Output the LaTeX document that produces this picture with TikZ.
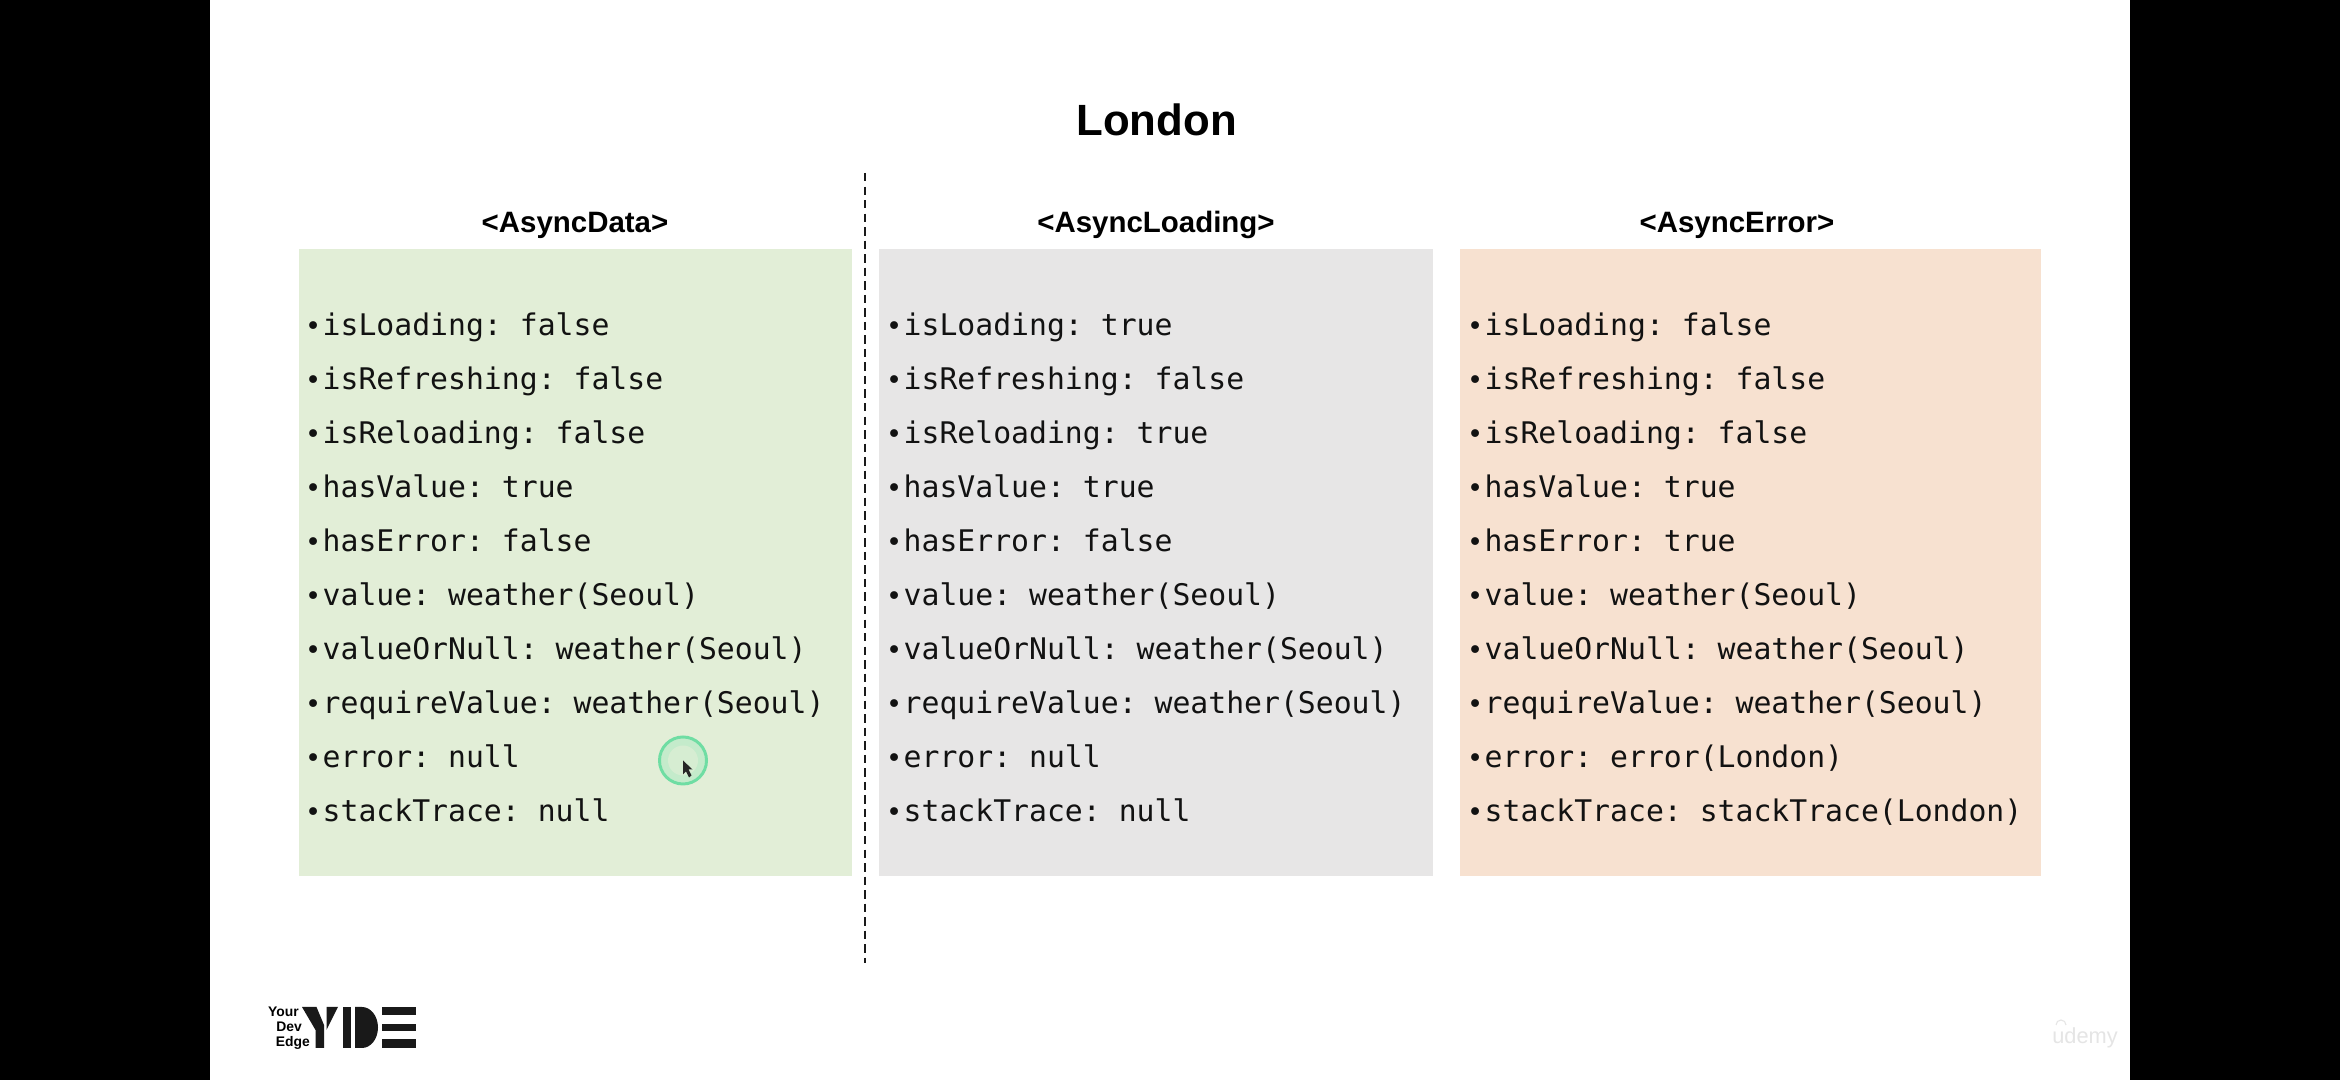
\documentclass[tikz,border=0pt]{standalone}
\usepackage{fontspec}
\setmainfont{Liberation Sans}
\setmonofont{DejaVu Sans Mono}
\definecolor{datagreen}{HTML}{E2EED7}
\definecolor{loadgrey}{HTML}{E7E6E6}
\definecolor{errorpeach}{HTML}{F7E1D0}
\definecolor{ringgreen}{HTML}{6FDDA3}
\definecolor{ringfill}{HTML}{C4EBCB}
\newcommand{\bul}{\llap{\scalebox{0.9}{\textbullet}\kern0.4pt}}
\tikzset{
    colbox/.style={inner sep=0pt, minimum height=6.27cm},
    heading/.style={anchor=base, inner sep=0pt, font=\bfseries\fontsize{8.38pt}{10pt}\selectfont},
    fieldrow/.style={anchor=base west, inner sep=0pt, text=black!93, font=\ttfamily\fontsize{8.47pt}{10pt}\selectfont},
    logotext/.style={anchor=base east, inner sep=0pt, font=\bfseries\fontsize{3.95pt}{4pt}\selectfont}
}

\begin{document}
\begin{tikzpicture}
        \useasboundingbox (0, 0) rectangle (23.4, 10.8);
        \fill[black] (0, 0) rectangle (23.4, 10.8);
        \fill[white] (2.1, 0) rectangle (21.3, 10.8);

        \node[anchor=base, inner sep=0pt, font=\bfseries\fontsize{12.45pt}{14pt}\selectfont] (title) at (11.565, 9.44) {London};

        \node[colbox, fill=datagreen, minimum width=5.53cm] (databox) at (5.755, 5.172) {};
        \node[colbox, fill=loadgrey, minimum width=5.54cm] (loadbox) at (11.56, 5.172) {};
        \node[colbox, fill=errorpeach, minimum width=5.81cm] (errorbox) at (17.505, 5.172) {};

        \node[heading] (datahead) at (5.75, 8.47) {<AsyncData>};
        \node[heading] (loadhead) at (11.56, 8.47) {<AsyncLoading>};
        \node[heading] (errorhead) at (17.37, 8.47) {<AsyncError>};

        \coordinate (dashtop) at (8.65, 9.07);
        \coordinate (dashbottom) at (8.65, 1.17);
        \draw[line width=0.55pt, black!90, dash pattern=on 2.4pt off 1.45pt] (dashtop) -- (dashbottom);

        % first column
        \node[fieldrow] (d1) at (3.22, 7.445) {\bul isLoading: false};
        \node[fieldrow] (d2) at (3.22, 6.905) {\bul isRefreshing: false};
        \node[fieldrow] (d3) at (3.22, 6.365) {\bul isReloading: false};
        \node[fieldrow] (d4) at (3.22, 5.825) {\bul hasValue: true};
        \node[fieldrow] (d5) at (3.22, 5.285) {\bul hasError: false};
        \node[fieldrow] (d6) at (3.22, 4.745) {\bul value: weather(Seoul)};
        \node[fieldrow] (d7) at (3.22, 4.205) {\bul valueOrNull: weather(Seoul)};
        \node[fieldrow] (d8) at (3.22, 3.665) {\bul requireValue: weather(Seoul)};
        \node[fieldrow] (d9) at (3.22, 3.125) {\bul error: null};
        \node[fieldrow] (d10) at (3.22, 2.585) {\bul stackTrace: null};

        % second column
        \node[fieldrow] (l1) at (9.03, 7.445) {\bul isLoading: true};
        \node[fieldrow] (l2) at (9.03, 6.905) {\bul isRefreshing: false};
        \node[fieldrow] (l3) at (9.03, 6.365) {\bul isReloading: true};
        \node[fieldrow] (l4) at (9.03, 5.825) {\bul hasValue: true};
        \node[fieldrow] (l5) at (9.03, 5.285) {\bul hasError: false};
        \node[fieldrow] (l6) at (9.03, 4.745) {\bul value: weather(Seoul)};
        \node[fieldrow] (l7) at (9.03, 4.205) {\bul valueOrNull: weather(Seoul)};
        \node[fieldrow] (l8) at (9.03, 3.665) {\bul requireValue: weather(Seoul)};
        \node[fieldrow] (l9) at (9.03, 3.125) {\bul error: null};
        \node[fieldrow] (l10) at (9.03, 2.585) {\bul stackTrace: null};

        % third column
        \node[fieldrow] (e1) at (14.84, 7.445) {\bul isLoading: false};
        \node[fieldrow] (e2) at (14.84, 6.905) {\bul isRefreshing: false};
        \node[fieldrow] (e3) at (14.84, 6.365) {\bul isReloading: false};
        \node[fieldrow] (e4) at (14.84, 5.825) {\bul hasValue: true};
        \node[fieldrow] (e5) at (14.84, 5.285) {\bul hasError: true};
        \node[fieldrow] (e6) at (14.84, 4.745) {\bul value: weather(Seoul)};
        \node[fieldrow] (e7) at (14.84, 4.205) {\bul valueOrNull: weather(Seoul)};
        \node[fieldrow] (e8) at (14.84, 3.665) {\bul requireValue: weather(Seoul)};
        \node[fieldrow] (e9) at (14.84, 3.125) {\bul error: error(London)};
        \node[fieldrow] (e10) at (14.84, 2.585) {\bul stackTrace: stackTrace(London)};

        % mouse pointer
        \fill[ringfill] (6.83, 3.195) circle (0.22);
        \fill[datagreen!60!ringfill] (6.83, 3.195) circle (0.15);
        \draw[ringgreen, line width=0.85pt] (6.83, 3.195) circle (0.235);
        \fill[black!85] (6.83, 3.195) -- (6.83, 3.055) -- (6.86, 3.085) -- (6.89, 3.025) -- (6.915, 3.045) -- (6.885, 3.105) -- (6.925, 3.105) -- cycle;

        % logo
        \node[logotext] (your) at (2.995, 0.63) {Your};
        \node[logotext] (dev) at (3.025, 0.48) {Dev};
        \node[logotext] (edge) at (3.105, 0.335) {Edge};
        \fill[black!90] (3.02, 0.73) -- (3.165, 0.73) -- (3.24, 0.55) -- (3.24, 0.32) -- (3.155, 0.32) -- (3.155, 0.5) -- cycle;
        \fill[black!90] (3.265, 0.73) -- (3.38, 0.73) -- (3.265, 0.5) -- cycle;
        \fill[black!90] (3.43, 0.73) rectangle (3.51, 0.32);
        \fill[black!90] (3.55, 0.73) -- (3.62, 0.73) arc[start angle=90, end angle=-90, x radius=0.16, y radius=0.205] -- (3.55, 0.32) -- cycle;
        \fill[black!90] (3.82, 0.73) rectangle (4.16, 0.65);
        \fill[black!90] (3.82, 0.56) rectangle (4.16, 0.49);
        \fill[black!90] (3.82, 0.41) rectangle (4.16, 0.32);

        % watermark
        \node[inner sep=0pt, text=black!10, font=\fontsize{6.2pt}{7pt}\selectfont] (udemy) at (20.85, 0.42) {udemy};
        \draw[black!10, line width=0.3pt] (20.56, 0.55) arc[start angle=180, end angle=0, radius=0.05];
    \end{tikzpicture}
\end{document}
